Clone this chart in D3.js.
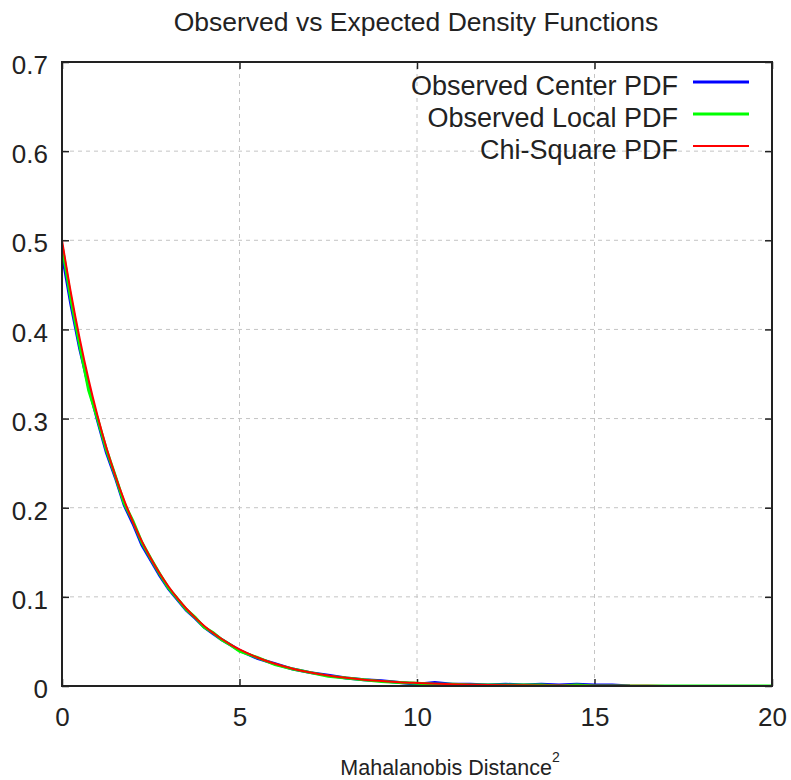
<!DOCTYPE html>
<html><head><meta charset="utf-8">
<script src="https://cdn.jsdelivr.net/npm/d3@7"></script>
<style>body{margin:0;background:#fff}svg{display:block}text{font-family:"Liberation Sans",Arial,sans-serif;fill:#222}</style>
</head><body>
<svg id="c" width="791" height="780"></svg>
<script>
const titleText = "Observed vs Expected Density Functions";
const xLabelText = "Mahalanobis Distance";
const xTicks = [0, 5, 10, 15, 20];
const yTicks = [0, 0.1, 0.2, 0.3, 0.4, 0.5, 0.6, 0.7];
const seriesNames = ["Observed Center PDF", "Observed Local PDF", "Chi-Square PDF"];
const seriesColors = ["#0000ff", "#00ff00", "#ff0000"];

const obsX = [0,0.25,0.5,0.75,1,1.25,1.5,1.75,2,2.25,2.5,2.75,3,3.25,3.5,3.75,4,4.25,4.5,4.75,5,
  5.5,6,6.5,7,7.5,8,8.5,9,9.5,10,10.5,11,11.5,12,12.5,13,13.5,14,14.5,15,15.5,16,16.5,17,17.5,18,18.5,19,19.5,20];
const centerY = [0.485,0.428,0.378,0.336,0.298,0.262,0.234,0.203,0.182,0.158,0.141,0.124,0.109,0.097,0.085,0.076,0.066,0.059,0.052,0.046,0.040,
  0.031,0.025,0.019,0.015,0.012,0.009,0.007,0.006,0.004,0.002,0.004,0.002,0.002,0.001,0.002,0.001,0.002,0.001,0.002,0.001,0.001,0.000];
const localY = [0.494,0.434,0.382,0.332,0.300,0.265,0.236,0.205,0.185,0.161,0.143,0.126,0.110,0.098,0.086,0.077,0.066,0.060,0.052,0.046,0.039,
  0.032,0.024,0.019,0.015,0.011,0.009,0.007,0.005,0.004,0.003,0.002,0.002,0.001,0.001,0.001,0.001,0.001,0.000,0.001,0.000,0.000,0.000,0.000,0.000,0.000,0.000,0.000,0.000,0.000,0.000];
const chiX = [0,0.25,0.5,0.75,1,1.25,1.5,1.75,2,2.25,2.5,2.75,3,3.25,3.5,3.75,4,4.25,4.5,4.75,5,5.5,6,6.5,7,7.5,8,8.5,9,9.5,10,11,12,13,14,15,16,17,18,20];
const chiY = [0.5,0.4412,0.3894,0.3436,0.3033,0.2676,0.2362,0.2084,0.1839,0.1623,0.1433,0.1264,0.1116,0.0985,0.0869,0.0767,0.0677,0.0597,0.0527,0.0465,0.0410,
  0.0320,0.0249,0.0194,0.0151,0.0118,0.0092,0.0071,0.0056,0.0043,0.0034,0.0020,0.0012,0.0008,0.0005,0.0003,0.0002,0.0001,0.00006,0.00002];

const svg = d3.select("#c");
const L = 62, R = 772, T = 62, B = 686;
const x = d3.scaleLinear().domain([0, 20]).range([L, R]);
const y = d3.scaleLinear().domain([0, 0.7]).range([B, T]);

// grid
const grid = svg.append("g").attr("stroke", "#c4c4c4").attr("stroke-width", 1).attr("stroke-dasharray", "4,4");
xTicks.slice(1, -1).forEach(v => grid.append("line").attr("x1", x(v)).attr("x2", x(v)).attr("y1", B).attr("y2", T));
yTicks.slice(1, -1).forEach(v => grid.append("line").attr("x1", L).attr("x2", R).attr("y1", y(v)).attr("y2", y(v)));

// axes with inward ticks
const fmtY = d => d === 0 ? "0" : d3.format(".1f")(d);
const axB = svg.append("g").attr("transform", `translate(0,${B})`).call(d3.axisBottom(x).tickValues(xTicks).tickSizeInner(-7).tickSizeOuter(0).tickPadding(22));
const axT = svg.append("g").attr("transform", `translate(0,${T})`).call(d3.axisTop(x).tickValues(xTicks).tickSizeInner(-7).tickSizeOuter(0).tickFormat(""));
const axLft = svg.append("g").attr("transform", `translate(${L},0)`).call(d3.axisLeft(y).tickValues(yTicks).tickSizeInner(-7).tickSizeOuter(0).tickPadding(14).tickFormat(fmtY));
const axRt = svg.append("g").attr("transform", `translate(${R},0)`).call(d3.axisRight(y).tickValues(yTicks).tickSizeInner(-7).tickSizeOuter(0).tickFormat(""));
[axB, axT, axLft, axRt].forEach(a => {
  a.select(".domain").remove();
  a.selectAll(".tick line").attr("stroke", "#222").attr("stroke-width", 1.5);
  a.selectAll(".tick text").attr("font-size", 26).attr("font-family", '"Liberation Sans",Arial,sans-serif').attr("fill", "#222");
});
axLft.selectAll(".tick text").attr("dy", "0.45em");
axB.selectAll(".tick text").attr("dy", "0.71em");

// series
svg.append("clipPath").attr("id", "clp").append("rect").attr("x", L).attr("y", T).attr("width", R - L).attr("height", B - T);
const plot = svg.append("g").attr("clip-path", "url(#clp)");
const line = d3.line().x(d => x(d[0])).y(d => y(d[1]));
const centerPts = centerY.map((v, i) => [obsX[i], v]);
const localPts = localY.map((v, i) => [obsX[i], v]);
const chiPts = chiY.map((v, i) => [chiX[i], v]);
plot.append("path").datum(centerPts).attr("d", line).attr("fill", "none").attr("stroke", seriesColors[0]).attr("stroke-width", 3);
plot.append("path").datum(localPts).attr("d", line).attr("fill", "none").attr("stroke", seriesColors[1]).attr("stroke-width", 3);
plot.append("path").datum(chiPts).attr("d", line.curve(d3.curveMonotoneX)).attr("fill", "none").attr("stroke", seriesColors[2]).attr("stroke-width", 2);

// frame
svg.append("rect").attr("x", L).attr("y", T).attr("width", R - L).attr("height", B - T).attr("fill", "none").attr("stroke", "#222").attr("stroke-width", 2);

// legend
const leg = svg.append("g");
seriesNames.forEach((n, i) => {
  const ly = 82 + i * 32;
  leg.append("text").attr("x", 678).attr("y", ly + 13).attr("text-anchor", "end").attr("font-size", 27).text(n);
  leg.append("line").attr("x1", 693).attr("x2", 749).attr("y1", ly).attr("y2", ly).attr("stroke", seriesColors[i]).attr("stroke-width", i < 2 ? 3 : 2);
});

// title & x label
svg.append("text").attr("x", 416).attr("y", 31).attr("text-anchor", "middle").attr("font-size", 26.5).text(titleText);
const xl = svg.append("text").attr("x", 450).attr("y", 775).attr("text-anchor", "middle").attr("font-size", 21.5);
xl.append("tspan").text(xLabelText);
xl.append("tspan").attr("font-size", 14).attr("dy", -13).text("2");
</script>
</body></html>
